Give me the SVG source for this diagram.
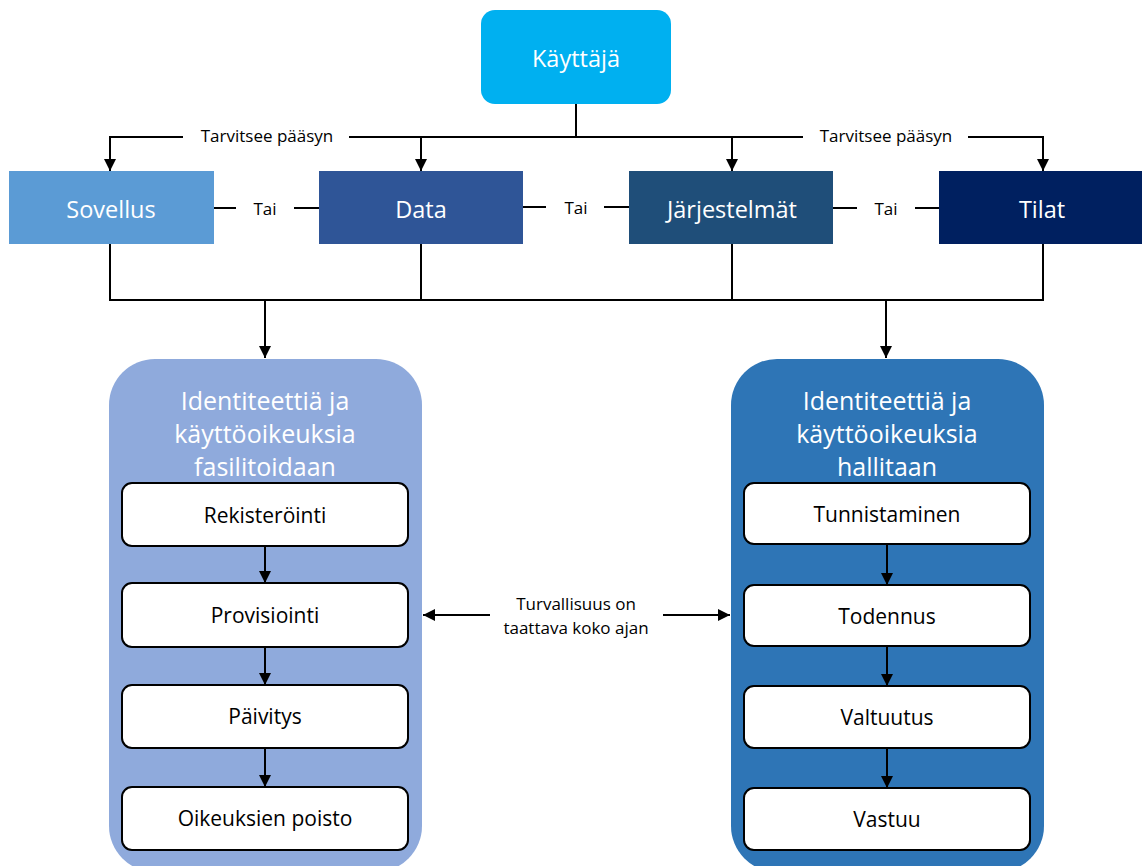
<svg xmlns="http://www.w3.org/2000/svg" width="1142" height="866" viewBox="0 0 1142 866">
  <style>
    text { font-family: "Open Sans", Lato, "Liberation Sans", sans-serif; text-anchor: middle; dominant-baseline: central; font-variant-ligatures: none; }
    .wt { fill: #ffffff; font-size: 23.5px; }
    .lbl { fill: #000000; font-size: 17px; }
    .step { fill: #000000; font-size: 21px; }
    .ttl { fill: #ffffff; font-size: 25px; }
    .ln { stroke: #000000; stroke-width: 2; fill: none; }
    .stepbox { fill: #ffffff; stroke: #000000; stroke-width: 2; }
  </style>
  <defs>
    <marker id="arr" viewBox="0 0 10 10" refX="10" refY="5" markerWidth="6" markerHeight="6" orient="auto-start-reverse" markerUnits="strokeWidth">
      <path d="M0,0 L10,5 L0,10 z" fill="#000000"/>
    </marker>
  </defs>

  <rect width="1142" height="866" fill="#ffffff"/>

  <!-- Connectors -->
  <g id="connectors">
    <!-- user to resources -->
    <line class="ln" x1="576" y1="104" x2="576" y2="137"/>
    <polyline class="ln" points="183,137 110,137" />
    <line class="ln" x1="110" y1="136" x2="110" y2="171" marker-end="url(#arr)"/>
    <line class="ln" x1="349" y1="137" x2="803" y2="137"/>
    <line class="ln" x1="421" y1="136" x2="421" y2="171" marker-end="url(#arr)"/>
    <line class="ln" x1="732" y1="136" x2="732" y2="171" marker-end="url(#arr)"/>
    <line class="ln" x1="968" y1="137" x2="1043" y2="137"/>
    <line class="ln" x1="1043" y1="136" x2="1043" y2="171" marker-end="url(#arr)"/>

    <!-- "Tai" links -->
    <line class="ln" x1="214" y1="208" x2="236" y2="208"/>
    <line class="ln" x1="294" y1="208" x2="319" y2="208"/>
    <line class="ln" x1="523" y1="207" x2="546" y2="207"/>
    <line class="ln" x1="604" y1="207" x2="629" y2="207"/>
    <line class="ln" x1="833" y1="208" x2="857" y2="208"/>
    <line class="ln" x1="915" y1="208" x2="939" y2="208"/>

    <!-- resources to panels -->
    <line class="ln" x1="110" y1="244" x2="110" y2="300"/>
    <line class="ln" x1="421" y1="244" x2="421" y2="300"/>
    <line class="ln" x1="732" y1="244" x2="732" y2="300"/>
    <line class="ln" x1="1043" y1="244" x2="1043" y2="300"/>
    <line class="ln" x1="109" y1="300" x2="1044" y2="300"/>
    <line class="ln" x1="265" y1="299" x2="265" y2="358" marker-end="url(#arr)"/>
    <line class="ln" x1="886" y1="299" x2="886" y2="358" marker-end="url(#arr)"/>

    <!-- security arrows -->
    <line class="ln" x1="490" y1="615" x2="423" y2="615" marker-end="url(#arr)"/>
    <line class="ln" x1="663" y1="615" x2="730" y2="615" marker-end="url(#arr)"/>
  </g>

  <g id="label-access-left"><text class="lbl" x="267" y="135">Tarvitsee pääsyn</text></g>
  <g id="label-access-right"><text class="lbl" x="886" y="135">Tarvitsee pääsyn</text></g>
  <g id="label-or-1"><text class="lbl" x="265" y="208">Tai</text></g>
  <g id="label-or-2"><text class="lbl" x="576" y="207">Tai</text></g>
  <g id="label-or-3"><text class="lbl" x="886" y="208">Tai</text></g>
  <g id="label-security">
    <text class="lbl" x="576" y="603">Turvallisuus on</text>
    <text class="lbl" x="576" y="627">taattava koko ajan</text>
  </g>

  <!-- User -->
  <g id="kayttaja">
    <rect x="481" y="10" width="190" height="94" rx="14" fill="#00B0F0"/>
    <text class="wt" x="576" y="58">Käyttäjä</text>
  </g>

  <!-- Resources -->
  <g id="sovellus">
    <rect x="9" y="171" width="205" height="73" fill="#5B9BD5"/>
    <text class="wt" x="111" y="209">Sovellus</text>
  </g>
  <g id="data">
    <rect x="319" y="171" width="204" height="73" fill="#2F5597"/>
    <text class="wt" x="421" y="209">Data</text>
  </g>
  <g id="jarjestelmat">
    <rect x="629" y="171" width="204" height="73" fill="#1F4E79"/>
    <text class="wt" x="732" y="209">Järjestelmät</text>
  </g>
  <g id="tilat">
    <rect x="939" y="171" width="210" height="73" fill="#002060"/>
    <text class="wt" x="1042" y="209">Tilat</text>
  </g>

  <!-- Facilitation panel -->
  <g id="panel-facilitate">
    <rect x="109" y="359" width="313" height="513" rx="46" fill="#8FAADC"/>
    <text class="ttl" x="265" y="400">Identiteettiä ja</text>
    <text class="ttl" x="265" y="433">käyttöoikeuksia</text>
    <text class="ttl" x="265" y="466">fasilitoidaan</text>
  </g>
  <g id="rekisterointi">
    <rect class="stepbox" x="122" y="483" width="286" height="63" rx="10"/>
    <text class="step" x="265" y="515">Rekisteröinti</text>
  </g>
  <g id="provisiointi">
    <rect class="stepbox" x="122" y="583" width="286" height="64" rx="10"/>
    <text class="step" x="265" y="615">Provisiointi</text>
  </g>
  <g id="paivitys">
    <rect class="stepbox" x="122" y="685" width="286" height="63" rx="10"/>
    <text class="step" x="265" y="716">Päivitys</text>
  </g>
  <g id="oikeuksien-poisto">
    <rect class="stepbox" x="122" y="787" width="286" height="63" rx="10"/>
    <text class="step" x="265" y="818">Oikeuksien poisto</text>
  </g>

  <!-- Management panel -->
  <g id="panel-manage">
    <rect x="731" y="359" width="313" height="513" rx="46" fill="#2E75B6"/>
    <text class="ttl" x="887" y="400">Identiteettiä ja</text>
    <text class="ttl" x="887" y="433">käyttöoikeuksia</text>
    <text class="ttl" x="887" y="466">hallitaan</text>
  </g>
  <g id="tunnistaminen">
    <rect class="stepbox" x="744" y="483" width="286" height="61" rx="10"/>
    <text class="step" x="887" y="514">Tunnistaminen</text>
  </g>
  <g id="todennus">
    <rect class="stepbox" x="744" y="585" width="286" height="61" rx="10"/>
    <text class="step" x="887" y="616">Todennus</text>
  </g>
  <g id="valtuutus">
    <rect class="stepbox" x="744" y="686" width="286" height="62" rx="10"/>
    <text class="step" x="887" y="717">Valtuutus</text>
  </g>
  <g id="vastuu">
    <rect class="stepbox" x="744" y="788" width="286" height="62" rx="10"/>
    <text class="step" x="887" y="819">Vastuu</text>
  </g>

  <!-- step arrows -->
  <g id="step-connectors">
    <line class="ln" x1="265" y1="546" x2="265" y2="583" marker-end="url(#arr)"/>
    <line class="ln" x1="265" y1="647" x2="265" y2="685" marker-end="url(#arr)"/>
    <line class="ln" x1="265" y1="748" x2="265" y2="787" marker-end="url(#arr)"/>
    <line class="ln" x1="887" y1="544" x2="887" y2="585" marker-end="url(#arr)"/>
    <line class="ln" x1="887" y1="646" x2="887" y2="686" marker-end="url(#arr)"/>
    <line class="ln" x1="887" y1="748" x2="887" y2="788" marker-end="url(#arr)"/>
  </g>
</svg>
